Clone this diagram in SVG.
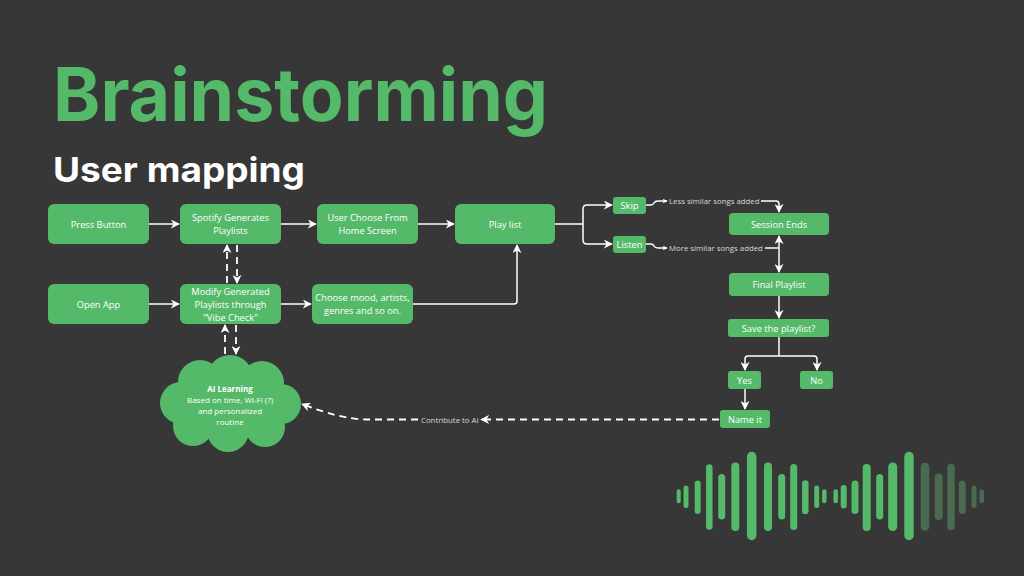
<svg xmlns="http://www.w3.org/2000/svg" width="1024" height="576" viewBox="0 0 1024 576">
<defs>
<marker id="ah" viewBox="0 0 10 10" refX="9" refY="5" markerWidth="5" markerHeight="5" orient="auto-start-reverse" markerUnits="userSpaceOnUse">
<path d="M0,0 L10,5 L0,10 L3,5 z" fill="#ffffff"/>
</marker>
<marker id="ahs" viewBox="0 0 10 10" refX="9" refY="5" markerWidth="9" markerHeight="9" orient="auto-start-reverse" markerUnits="userSpaceOnUse">
<path d="M0,0 L10,5 L0,10 L3,5 z" fill="#ffffff"/>
</marker>
</defs>
<style>
.node{fill:#55b96a;}
.t{font-family:"Open Sans","Liberation Sans",sans-serif;font-size:9.3px;fill:#ffffff;text-anchor:middle;dominant-baseline:central;}
.ct{font-size:8px;}
.lbl{font-family:"Open Sans","Liberation Sans",sans-serif;font-size:7.8px;fill:#d8d8d8;dominant-baseline:central;}
.c{fill:none;stroke:#ffffff;stroke-width:1.5;}
.d{fill:none;stroke:#ffffff;stroke-width:1.8;stroke-dasharray:7 5;}
.bar{stroke-linecap:round;}
</style>
<rect width="1024" height="576" fill="#373737"/>
<text x="53" y="121" font-family="Inter,'Liberation Sans',sans-serif" font-weight="700" font-size="74" fill="#55b96a" textLength="495" lengthAdjust="spacingAndGlyphs">Brainstorming</text>
<text x="53" y="182" font-family="Inter,'Liberation Sans',sans-serif" font-weight="700" font-size="34" fill="#ffffff" textLength="252" lengthAdjust="spacingAndGlyphs">User mapping</text>

<g id="connectors">
<path class="c" d="M149,224 H179" marker-end="url(#ahs)"/>
<path class="c" d="M281,224 H316" marker-end="url(#ahs)"/>
<path class="c" d="M418,224 H454" marker-end="url(#ahs)"/>
<path class="c" d="M149,304 H179" marker-end="url(#ahs)"/>
<path class="c" d="M281,304 H311" marker-end="url(#ahs)"/>
<path class="c" d="M413,304 H514 Q517,304 517,301 V245" marker-end="url(#ahs)"/>
<path class="d" d="M227,283 V245" marker-end="url(#ahs)"/>
<path class="d" d="M237,245 V283" marker-end="url(#ahs)"/>
<path class="d" d="M225,354 V325" marker-end="url(#ahs)"/>
<path class="d" d="M236,325 V354" marker-end="url(#ahs)"/>
<path class="c" d="M555,224 H583"/>
<path class="c" d="M583,224 V209 Q583,205 587,205 H612" marker-end="url(#ahs)"/>
<path class="c" d="M583,224 V240 Q583,244 587,244 H612" marker-end="url(#ahs)"/>
<path class="c" d="M646,205 H651 Q653,205 654,203 Q655,201 658,201 H667" marker-end="url(#ah)"/>
<path class="c" d="M646,244 H651 Q653,244 654,246 Q655,248 658,248 H667" marker-end="url(#ah)"/>
<path class="c" d="M761,201 H776 Q779,201 779,204 V212" marker-end="url(#ahs)"/>
<path class="c" d="M765,248 H779"/>
<path class="c" d="M779,248 V236" marker-end="url(#ahs)"/>
<path class="c" d="M779,248 V272" marker-end="url(#ahs)"/>
<path class="c" d="M779,296 V318" marker-end="url(#ahs)"/>
<path class="c" d="M779,337 V356"/>
<path class="c" d="M779,356 H748 Q745,356 745,359 V370" marker-end="url(#ahs)"/>
<path class="c" d="M779,356 H814 Q817,356 817,359 V370" marker-end="url(#ahs)"/>
<path class="c" d="M745,389 V409" marker-end="url(#ahs)"/>
<path class="d" d="M719,419.5 H481" marker-end="url(#ahs)"/>
<text class="lbl" x="421" y="420">Contribute to AI</text>
<path class="d" d="M418,419.5 H366 Q340,419 302,404" marker-end="url(#ahs)"/>
<text class="lbl" x="669" y="201">Less similar songs added</text>
<text class="lbl" x="669" y="248">More similar songs added</text>
</g>

<g id="press-button"><rect class="node" x="48" y="204" width="101" height="40" rx="6"/><text class="t" x="98.5" y="224">Press Button</text></g>
<g id="spotify-generates"><rect class="node" x="180" y="204" width="101" height="40" rx="6"/><text class="t" x="230.5" y="217.5">Spotify Generates</text><text class="t" x="230.5" y="230.5">Playlists</text></g>
<g id="user-choose"><rect class="node" x="317" y="204" width="101" height="40" rx="6"/><text class="t" x="367.5" y="217.5">User Choose From</text><text class="t" x="367.5" y="230.5">Home Screen</text></g>
<g id="play-list"><rect class="node" x="455" y="204" width="100" height="40" rx="6"/><text class="t" x="505" y="224">Play list</text></g>
<g id="open-app"><rect class="node" x="48" y="284" width="101" height="40" rx="6"/><text class="t" x="98.5" y="304">Open App</text></g>
<g id="modify"><rect class="node" x="180" y="284" width="101" height="40" rx="6"/><text class="t" x="230.5" y="291.5">Modify Generated</text><text class="t" x="230.5" y="304.5">Playlists through</text><text class="t" x="230.5" y="317.5">"Vibe Check"</text></g>
<g id="choose-mood"><rect class="node" x="312" y="284" width="101" height="40" rx="6"/><text class="t" x="362.5" y="297.5">Choose mood, artists,</text><text class="t" x="362.5" y="310.5">genres and so on.</text></g>
<g id="skip"><rect class="node" x="613" y="197" width="33" height="17" rx="3"/><text class="t" x="629.5" y="205.5">Skip</text></g>
<g id="listen"><rect class="node" x="613" y="236" width="33" height="17" rx="3"/><text class="t" x="629.5" y="244.5">Listen</text></g>
<g id="session-ends"><rect class="node" x="729" y="213" width="100" height="22" rx="4"/><text class="t" x="779" y="224">Session Ends</text></g>
<g id="final-playlist"><rect class="node" x="729" y="273" width="100" height="23" rx="4"/><text class="t" x="779" y="284.5">Final Playlist</text></g>
<g id="save"><rect class="node" x="728" y="319" width="101" height="18" rx="3"/><text class="t" x="778.5" y="328">Save the playlist?</text></g>
<g id="yes"><rect class="node" x="728" y="371" width="33" height="18" rx="3"/><text class="t" x="744.5" y="380">Yes</text></g>
<g id="no"><rect class="node" x="800" y="371" width="33" height="18" rx="3"/><text class="t" x="816.5" y="380">No</text></g>
<g id="name-it"><rect class="node" x="720" y="410" width="50" height="18" rx="3"/><text class="t" x="745" y="419">Name it</text></g>

<g id="ai-learning">
<g fill="#55b96a">
<ellipse cx="230" cy="405" rx="58" ry="34"/>
<circle cx="200" cy="382" r="22"/>
<circle cx="230" cy="378" r="23"/>
<circle cx="262" cy="383" r="22"/>
<circle cx="281" cy="404" r="20"/>
<circle cx="181" cy="403" r="21"/>
<circle cx="193" cy="426" r="20"/>
<circle cx="228" cy="431" r="21"/>
<circle cx="265" cy="427" r="20"/>
</g>
<text class="t ct" x="230" y="388" font-weight="700">AI Learning</text>
<text class="t ct" x="230" y="399">Based on time, Wi-Fi (?)</text>
<text class="t ct" x="230" y="410">and personalized</text>
<text class="t ct" x="230" y="421">routine</text>
</g>

<g id="waveform" class="bar">
<g stroke="#55b96a">
<line x1="678.7" y1="491.3" x2="678.7" y2="501.3" stroke-width="4"/>
<line x1="686" y1="488" x2="686" y2="505.5" stroke-width="5"/>
<line x1="697.7" y1="483.5" x2="697.7" y2="511" stroke-width="6"/>
<line x1="709.3" y1="467.5" x2="709.3" y2="526.5" stroke-width="6.5"/>
<line x1="721.7" y1="477.5" x2="721.7" y2="516" stroke-width="7"/>
<line x1="735.3" y1="466.5" x2="735.3" y2="527" stroke-width="8"/>
<line x1="751.7" y1="456.5" x2="751.7" y2="535.5" stroke-width="9.5"/>
<line x1="768" y1="466.5" x2="768" y2="527" stroke-width="8"/>
<line x1="781.7" y1="477.5" x2="781.7" y2="516" stroke-width="7"/>
<line x1="793.7" y1="467.5" x2="793.7" y2="526.5" stroke-width="7"/>
<line x1="805.3" y1="483.5" x2="805.3" y2="511" stroke-width="6.5"/>
<line x1="816.7" y1="488" x2="816.7" y2="505.5" stroke-width="5"/>
<line x1="824.3" y1="491.5" x2="824.3" y2="501" stroke-width="4.5"/>
<line x1="835.7" y1="491.5" x2="835.7" y2="501" stroke-width="4.5"/>
<line x1="843.7" y1="488" x2="843.7" y2="505.5" stroke-width="6"/>
<line x1="855" y1="484" x2="855" y2="510.5" stroke-width="7"/>
<line x1="866.7" y1="468" x2="866.7" y2="527" stroke-width="8"/>
<line x1="879.7" y1="477.5" x2="879.7" y2="516" stroke-width="7"/>
<line x1="892.7" y1="467" x2="892.7" y2="526.5" stroke-width="9"/>
<line x1="909" y1="456.5" x2="909" y2="535.5" stroke-width="9.5"/>
</g>
<g stroke="#4a6b51">
<line x1="925" y1="467" x2="925" y2="526.5" stroke-width="8.5"/>
<line x1="938.7" y1="477.5" x2="938.7" y2="516" stroke-width="8"/>
<line x1="951" y1="467.5" x2="951" y2="526.5" stroke-width="7.5"/>
<line x1="962.3" y1="484" x2="962.3" y2="510.5" stroke-width="7"/>
<line x1="974" y1="488" x2="974" y2="505.5" stroke-width="5"/>
<line x1="981.7" y1="491.5" x2="981.7" y2="501" stroke-width="4.5"/>
</g>
</g>
</svg>
